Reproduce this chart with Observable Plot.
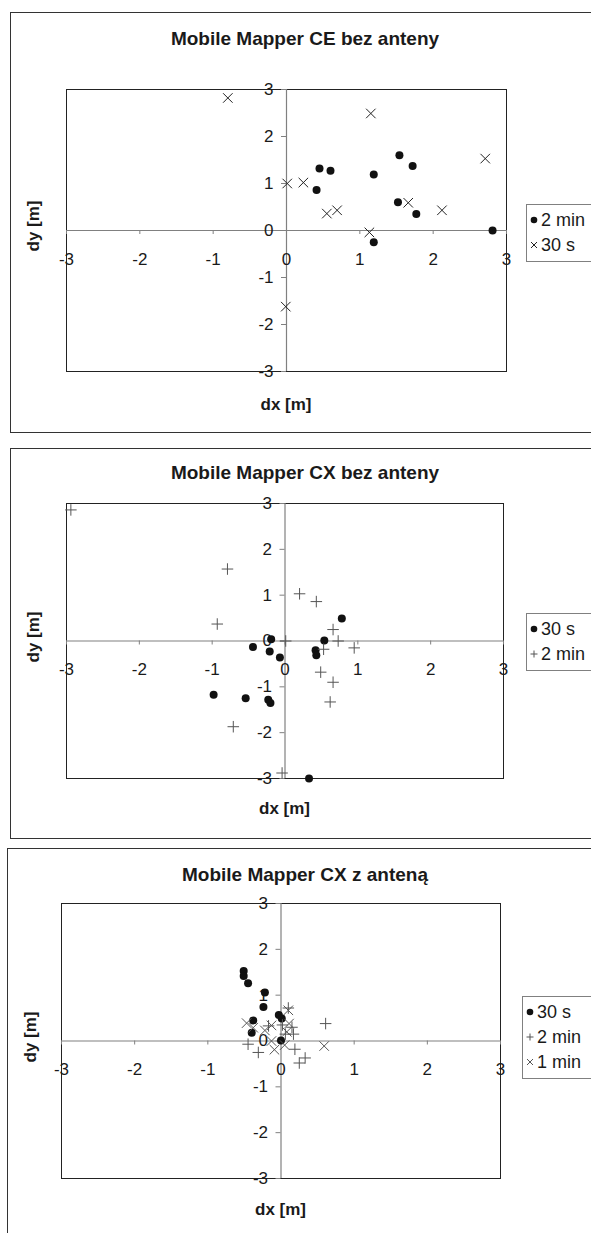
<!DOCTYPE html>
<html>
<head>
<meta charset="utf-8">
<script src="https://cdn.jsdelivr.net/npm/d3@7"></script>
<script src="https://cdn.jsdelivr.net/npm/@observablehq/plot@0.6"></script>
<style>
  html, body { margin: 0; padding: 0; background: #fff; }
  body { width: 591px; height: 1233px; position: relative; overflow: hidden;
         font-family: "Liberation Sans", Arial, sans-serif; color: #1a1a1a; }
  .frame { position: absolute; border: 1px solid #333; background: #fff; }
  .title { position: absolute; font-weight: bold; font-size: 19px; white-space: nowrap;
           transform: translate(-50%, -50%); }
  .xlab { position: absolute; font-weight: bold; font-size: 17px; white-space: nowrap;
          transform: translate(-50%, -50%); }
  .ylab { position: absolute; font-weight: bold; font-size: 17px; white-space: nowrap;
          transform: translate(-50%, -50%) rotate(-90deg); }
  .legend { position: absolute; border: 1px solid #808080; background: #fff;
            font-size: 18px; padding: 3px 30px 3px 2px; width: 90px; }
  .legend .row { height: 25px; line-height: 25px; white-space: nowrap; }
  .legend svg { vertical-align: middle; margin-right: 2px; position: relative; top: -1px; }
  .plot { position: absolute; left: 0; }
</style>
</head>
<body>
<script>
// ---------- data ----------
const tickValues = [-3, -2, -1, 0, 1, 2, 3];

// Panel 1: Mobile Mapper CE bez anteny
const ce2minDx = [0.45, 0.60, 1.19, 0.41, 1.54, 1.72, 1.52, 1.77, 2.81, 1.19];
const ce2minDy = [1.32, 1.27, 1.19, 0.86, 1.60, 1.37, 0.60, 0.35, 0.00, -0.25];
const ce30sDx = [-0.80, 1.15, 2.71, 0.01, 0.23, 0.55, 0.69, 1.66, 2.12, 1.13, -0.01];
const ce30sDy = [2.82, 2.49, 1.53, 1.00, 1.02, 0.36, 0.43, 0.59, 0.43, -0.04, -1.62];

// Panel 2: Mobile Mapper CX bez anteny
const cx30sDx = [0.78, -0.19, 0.54, -0.44, -0.21, -0.07, 0.42, 0.43, -0.98, -0.54, -0.23, -0.20, 0.33];
const cx30sDy = [0.49, 0.04, 0.01, -0.13, -0.23, -0.36, -0.20, -0.31, -1.17, -1.25, -1.28, -1.35, -3.00];
const cx2minDx = [-2.94, -0.79, 0.20, 0.43, -0.93, 0.66, 0.01, 0.73, 0.53, 0.95, 0.49, 0.66, 0.62, -0.71, -0.04];
const cx2minDy = [2.86, 1.57, 1.03, 0.86, 0.37, 0.25, 0.00, 0.00, -0.18, -0.15, -0.68, -0.90, -1.33, -1.87, -2.88];

// Panel 3: Mobile Mapper CX z anteną
const cxa30sDx = [-0.51, -0.51, -0.45, -0.22, -0.24, -0.03, 0.01, -0.38, -0.40, 0.00];
const cxa30sDy = [1.53, 1.42, 1.26, 1.06, 0.74, 0.57, 0.49, 0.45, 0.18, 0.01];
const cxa2minDx = [0.61, -0.45, -0.31, 0.19, 0.25, 0.33, 0.02, 0.06, 0.15, 0.17, -0.17, 0.10];
const cxa2minDy = [0.38, -0.07, -0.25, -0.18, -0.48, -0.37, 0.35, 0.15, 0.30, 0.15, 0.33, 0.72];
const cxa1minDx = [-0.47, -0.38, -0.22, -0.13, -0.13, -0.09, 0.05, 0.10, 0.11, 0.08, 0.59];
const cxa1minDy = [0.39, 0.29, 0.23, 0.34, 0.00, -0.19, -0.09, 0.67, 0.38, 0.20, -0.11];

const zip = (xs, ys) => xs.map((x, i) => ({dx: x, dy: ys[i]}));

// ---------- styles per series ----------
const styleDot = {symbol: "circle", fill: "#111", stroke: "none", r: 4};
const styleTimes = {symbol: "times", fill: "none", stroke: "#222", r: 4.4, strokeWidth: 1};
const stylePlus = {symbol: "plus", fill: "none", stroke: "#555", r: 3.8, strokeWidth: 1};
const styleTimesGray = {symbol: "times", fill: "none", stroke: "#555", r: 4.4, strokeWidth: 1};

const panels = [
  {
    title: "Mobile Mapper CE bez anteny",
    frame: {left: 10, top: 12, bottom: 431},
    plot: {left: 66, right: 506, top: 89, bottom: 371},
    titleY: 39, xlabY: 405, ylabX: 34,
    legend: {left: 526, top: 204},
    series: [
      {name: "2 min", data: zip(ce2minDx, ce2minDy), style: styleDot},
      {name: "30 s", data: zip(ce30sDx, ce30sDy), style: styleTimes}
    ]
  },
  {
    title: "Mobile Mapper CX bez anteny",
    frame: {left: 10, top: 448, bottom: 837},
    plot: {left: 66, right: 503, top: 503, bottom: 778},
    titleY: 473, xlabY: 809, ylabX: 34,
    legend: {left: 526, top: 613},
    series: [
      {name: "30 s", data: zip(cx30sDx, cx30sDy), style: styleDot},
      {name: "2 min", data: zip(cx2minDx, cx2minDy), style: stylePlus}
    ]
  },
  {
    title: "Mobile Mapper CX z anteną",
    frame: {left: 7, top: 848, bottom: 1250},
    plot: {left: 61, right: 500, top: 903, bottom: 1178},
    titleY: 875, xlabY: 1210, ylabX: 31,
    legend: {left: 522, top: 996},
    series: [
      {name: "30 s", data: zip(cxa30sDx, cxa30sDy), style: styleDot},
      {name: "2 min", data: zip(cxa2minDx, cxa2minDy), style: stylePlus},
      {name: "1 min", data: zip(cxa1minDx, cxa1minDy), style: styleTimesGray}
    ]
  }
];

function legendIcon(style) {
  const ns = "http://www.w3.org/2000/svg";
  const svg = document.createElementNS(ns, "svg");
  svg.setAttribute("width", 10); svg.setAttribute("height", 10);
  svg.setAttribute("viewBox", "-5 -5 10 10");
  let el;
  if (style.symbol === "circle") {
    el = document.createElementNS(ns, "circle");
    el.setAttribute("r", 3.3); el.setAttribute("fill", style.fill);
  } else {
    el = document.createElementNS(ns, "path");
    const s = style.symbol === "plus" ? "M-3.5,0H3.5M0,-3.5V3.5" : "M-3,-3L3,3M-3,3L3,-3";
    el.setAttribute("d", s); el.setAttribute("stroke", style.stroke);
    el.setAttribute("fill", "none"); el.setAttribute("stroke-width", 1);
  }
  svg.appendChild(el);
  return svg;
}

function addDiv(cls, text, css) {
  const d = document.createElement("div");
  d.className = cls;
  if (text != null) d.textContent = text;
  Object.assign(d.style, css);
  document.body.appendChild(d);
  return d;
}

for (const p of panels) {
  const H = p.frame.bottom - p.frame.top;
  addDiv("frame", null, {left: p.frame.left + "px", top: p.frame.top + "px",
    width: "700px", height: H + "px"});

  const yPx = (p.plot.bottom - p.plot.top) / 6;
  const xPx = (p.plot.right - p.plot.left) / 6;
  const tickLenY = 4 / yPx, tickLenX = 5 / xPx;

  const marks = [
    Plot.frame({stroke: "#222", strokeWidth: 1}),
    Plot.ruleY([0], {stroke: "#808080", strokeWidth: 1.2}),
    Plot.ruleX([0], {stroke: "#808080", strokeWidth: 1.2}),
    Plot.ruleX(tickValues, {x: d => d, y1: 0, y2: -tickLenY, stroke: "#808080"}),
    Plot.ruleY(tickValues, {y: d => d, x1: -tickLenX, x2: 0, stroke: "#808080"}),
    Plot.text(tickValues, {x: d => d, y: 0, dy: 29, text: d => String(d), fontSize: 17, fill: "#1a1a1a"}),
    Plot.text(tickValues, {x: 0, y: d => d, dx: -13, textAnchor: "end", text: d => String(d), fontSize: 17, fill: "#1a1a1a"})
  ];
  for (const s of p.series) {
    marks.push(Plot.dot(s.data, {x: "dx", y: "dy", ...s.style}));
  }

  const chart = Plot.plot({
    width: 591,
    height: H,
    marginLeft: p.plot.left,
    marginRight: 591 - p.plot.right,
    marginTop: p.plot.top - p.frame.top,
    marginBottom: p.frame.bottom - p.plot.bottom,
    x: {domain: [-3, 3], axis: null},
    y: {domain: [-3, 3], axis: null},
    style: {background: "transparent", fontFamily: "'Liberation Sans', Arial, sans-serif", overflow: "visible"},
    marks
  });
  chart.classList.add("plot");
  chart.style.position = "absolute";
  chart.style.top = p.frame.top + "px";
  chart.style.left = "0px";
  document.body.appendChild(chart);

  addDiv("title", p.title, {left: "305px", top: p.titleY + "px"});
  const axisX = p.plot.left + (p.plot.right - p.plot.left) / 2;
  const axisY = p.plot.top + (p.plot.bottom - p.plot.top) / 2;
  addDiv("xlab", "dx [m]", {left: axisX + "px", top: p.xlabY + "px"});
  addDiv("ylab", "dy [m]", {left: p.ylabX + "px", top: (axisY - 4) + "px"});

  const lg = addDiv("legend", null, {left: p.legend.left + "px", top: p.legend.top + "px"});
  for (const s of p.series) {
    const row = document.createElement("div");
    row.className = "row";
    row.appendChild(legendIcon(s.style));
    row.appendChild(document.createTextNode(s.name));
    lg.appendChild(row);
  }
}
</script>
</body>
</html>
